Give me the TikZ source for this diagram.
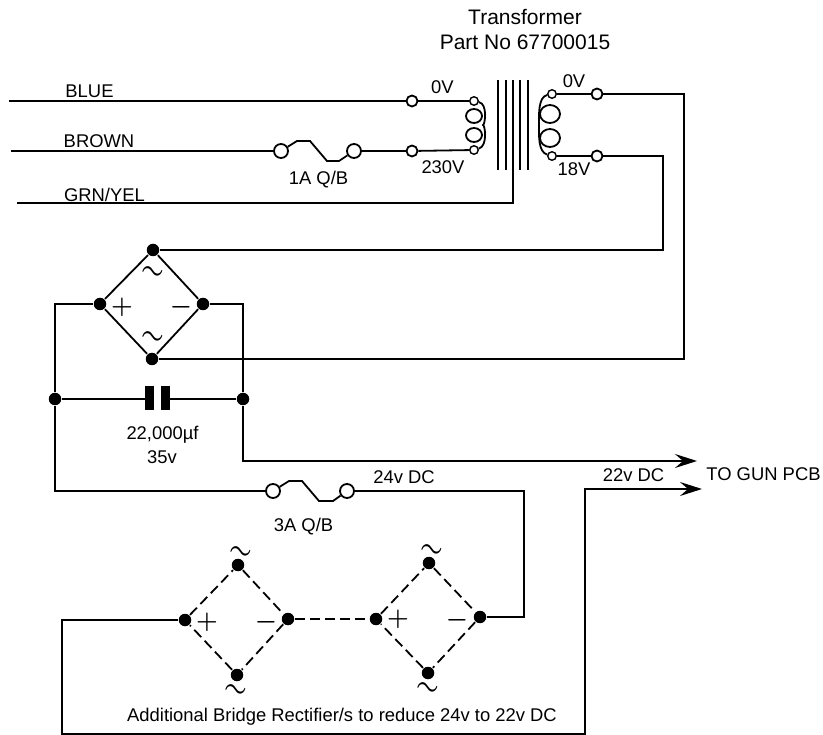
\documentclass[tikz,border=0pt]{standalone}
\usepackage{fontspec}
\setmainfont{Liberation Sans}
\usepackage{amsmath}
\usetikzlibrary{positioning,arrows.meta}

\begin{document}
\begin{tikzpicture}[x=1pt,y=-1pt,line width=1.8pt,font=\fontsize{18.4}{21}\selectfont]
    \tikzstyle{terminal}=[circle,draw,fill=white,inner sep=0pt,minimum size=11pt]
    \tikzstyle{tap}=[circle,draw,fill=white,inner sep=0pt,minimum size=8.5pt,line width=1.4pt]
    \tikzstyle{fusering}=[circle,draw,fill=white,inner sep=0pt,minimum size=14pt]
    \tikzstyle{dot}=[circle,fill=black,inner sep=0pt,minimum size=12.5pt]
    \tikzstyle{wire}=[line width=1.8pt]
    \tikzstyle{arrowwire}=[-{Stealth[length=22pt,width=14pt,inset=8pt]}]
    \tikzstyle{extra}=[dash pattern=on 10pt off 5pt]
    \tikzstyle{capplate}=[fill=black,minimum width=9pt,minimum height=24pt,inner sep=0pt]
    \tikzstyle{sign}=[inner sep=0pt,font=\fontsize{31}{31}\selectfont]
    \tikzstyle{wave}=[sign,rotate=-15]
    \tikzstyle{label}=[inner sep=0pt]
    \tikzstyle{title}=[inner sep=0pt,font=\fontsize{21}{24}\selectfont]

    \useasboundingbox (0,0) rectangle (823,735);

    % mains side
    \node[terminal] (blueT) at (412,101) {};
    \node[terminal] (brownT) at (412,151) {};
    \node[tap] (priTop) at (474,101) {};
    \node[tap] (priBot) at (474,150) {};
    \coordinate (blueIn) at (9,101);
    \coordinate (brownIn) at (11,151);
    \coordinate (earthIn) at (17,203);
    \node[fusering] (fuseAl) at (281,151) {};
    \node[fusering] (fuseAr) at (354,151) {};

    \draw[wire] (blueIn) -- (blueT);
    \draw[wire] (blueT) -- (priTop);
    \draw[wire] (brownIn) -- (fuseAl);
    \draw[wire] (fuseAr) -- (brownT);
    \draw[wire] (brownT) -- (priBot);
    \draw[wire] (fuseAl) -- (297,141) -- (310,141) -- (327,161) -- (339,161) -- (fuseAr);

    % transformer
    \draw[wire] (498,80) -- (498,170);
    \draw[wire] (506,80) -- (506,170);
    \draw[wire] (513,80) -- (513,203) -- (earthIn);
    \draw[wire] (520,80) -- (520,170);
    \draw[wire] (528,80) -- (528,170);
    \draw[wire] (474,116) ellipse (8 and 7);
    \draw[wire] (474,135) ellipse (8 and 7);
    \draw[wire] (priTop) .. controls (488,104) and (485,125) .. (483,125) .. controls (485,125) and (488,146) .. (priBot);

    \node[tap] (secTop) at (552,94) {};
    \node[tap] (secBot) at (552,156) {};
    \node[terminal] (zeroT) at (597,94) {};
    \node[terminal] (lowT) at (597,156) {};
    \draw[wire] (550,114) ellipse (10 and 9);
    \draw[wire] (550,138) ellipse (10 and 9);
    \draw[wire] (secTop) .. controls (538,97) and (539,115) .. (539,125) .. controls (539,135) and (538,152) .. (secBot);
    \draw[wire] (secTop) -- (zeroT);
    \draw[wire] (secBot) -- (lowT);

    % main bridge
    \node[dot] (brTop) at (153,250) {};
    \node[dot] (brLeft) at (100,304) {};
    \node[dot] (brRight) at (203,304) {};
    \node[dot] (brBot) at (152,359) {};
    \draw[wire] (brTop) -- (brRight) -- (brBot) -- (brLeft) -- (brTop);
    \draw[wire] (lowT) -| (663,250) -- (brTop);
    \draw[wire] (zeroT) -| (684,359) -- (brBot);

    % capacitor
    \node[dot] (capL) at (55,399) {};
    \node[dot] (capR) at (243,399) {};
    \node[capplate] (plateA) at (149.5,398) {};
    \node[capplate] (plateB) at (165.5,398) {};
    \draw[wire] (capL) -- (149,399);
    \draw[wire] (166,399) -- (capR);
    \draw[wire] (brLeft) -- (55,304) -- (capL);
    \draw[wire] (brRight) -- (243,304) -- (capR);

    % outputs
    \coordinate (outA) at (697,461);
    \coordinate (outB) at (702,489);
    \draw[wire,arrowwire] (capR) |- (outA);

    \node[fusering] (fuseBl) at (273,491) {};
    \node[fusering] (fuseBr) at (347,491) {};
    \draw[wire] (capL) |- (fuseBl);
    \draw[wire] (fuseBl) -- (289,481) -- (302,481) -- (319,501) -- (333,501) -- (fuseBr);

    % additional bridges
    \node[dot] (xTop) at (238,565) {};
    \node[dot] (xLeft) at (185,620) {};
    \node[dot] (xRight) at (288,619) {};
    \node[dot] (xBot) at (237,675) {};
    \node[dot] (yTop) at (429,563) {};
    \node[dot] (yLeft) at (376,619) {};
    \node[dot] (yRight) at (480,617) {};
    \node[dot] (yBot) at (428,673) {};
    \draw[wire,extra] (xTop) -- (xRight) -- (xBot) -- (xLeft) -- (xTop);
    \draw[wire,extra] (yTop) -- (yRight) -- (yBot) -- (yLeft) -- (yTop);
    \draw[wire,extra] (xRight) -- (yLeft);
    \draw[wire] (fuseBr) -- (524,491) -- (524,617) -- (yRight);
    \draw[wire,arrowwire] (xLeft) -- (62,620) -- (62,734) -| (585,489) -- (outB);

    % signs
    \node[wave] (sTop) at (153,273) {$\boldsymbol{\sim}$};
    \node[wave] (sBot) at (153,338) {$\boldsymbol{\sim}$};
    \node[sign] (sPlus) at (122,307) {$\boldsymbol{+}$};
    \node[sign] (sMinus) at (181,307) {$\boldsymbol{-}$};
    \node[wave] (xsTop) at (241,553) {$\boldsymbol{\sim}$};
    \node[wave] (xsBot) at (236,691) {$\boldsymbol{\sim}$};
    \node[sign] (xsPlus) at (207,622) {$\boldsymbol{+}$};
    \node[sign] (xsMinus) at (266,622) {$\boldsymbol{-}$};
    \node[wave] (ysTop) at (432,551) {$\boldsymbol{\sim}$};
    \node[wave] (ysBot) at (428,689) {$\boldsymbol{\sim}$};
    \node[sign] (ysPlus) at (398,619) {$\boldsymbol{+}$};
    \node[sign] (ysMinus) at (457,620) {$\boldsymbol{-}$};

    % labels
    \node[title] (lTrans) at (525,17) {Transformer};
    \node[title] (lPart) at (525,42) {Part No 67700015};
    \node[label] (lBlue) at (89.5,91) {BLUE};
    \node[label] (lBrown) at (99,141) {BROWN};
    \node[label] (lEarth) at (104.5,195) {GRN/YEL};
    \node[label] (lPriZero) at (442.5,87) {0V};
    \node[label] (lPriHigh) at (443,167) {230V};
    \node[label] (lSecZero) at (574,81) {0V};
    \node[label] (lSecLow) at (574,169) {18V};
    \node[label] (lFuseA) at (318.5,180) {1A Q/B};
    \node[label] (lCap) at (162.5,435) {22,000µf};
    \node[label] (lCapV) at (162,457) {35v};
    \node[label] (lFuseB) at (303.5,527) {3A Q/B};
    \node[label] (l24) at (404,477) {24v DC};
    \node[label] (l22) at (633.5,475) {22v DC};
    \node[label] (lGun) at (763.5,474) {TO GUN PCB};
    \node[label] (lNote) at (342,717) {Additional Bridge Rectifier/s to reduce 24v to 22v DC};
\end{tikzpicture}
\end{document}
